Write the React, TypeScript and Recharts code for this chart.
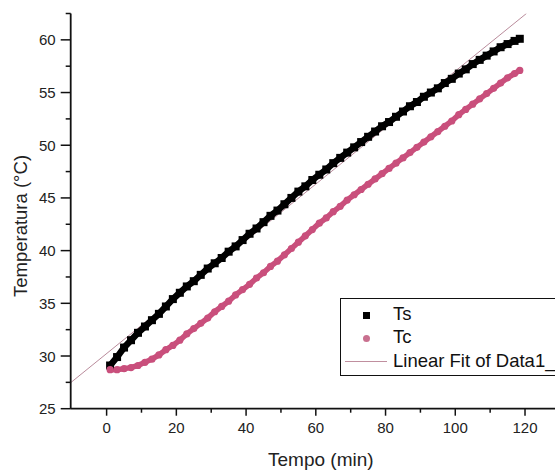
import { LineChart, Line, XAxis, YAxis, Label } from 'recharts'

const times = [
  1, 3, 5, 7, 9, 11, 13, 15, 17, 19, 21, 23, 25, 27, 29, 31, 33, 35, 37, 39,
  41, 43, 45, 47, 49, 51, 53, 55, 57, 59, 61, 63, 65, 67, 69, 71, 73, 75, 77, 79,
  81, 83, 85, 87, 89, 91, 93, 95, 97, 99, 101, 103, 105, 107, 109, 111, 113, 115, 117, 118.5,
]

const tsValues = [
  29.1, 29.9, 30.8, 31.5, 32.2, 32.8, 33.4, 34.0, 34.7, 35.4, 36.0, 36.6, 37.1, 37.7, 38.3, 38.8, 39.3, 39.9, 40.4, 41.0,
  41.6, 42.1, 42.7, 43.3, 43.8, 44.4, 45.0, 45.6, 46.1, 46.7, 47.2, 47.7, 48.3, 48.8, 49.3, 49.8, 50.3, 50.8, 51.3, 51.8,
  52.2, 52.7, 53.2, 53.7, 54.1, 54.6, 55.0, 55.4, 55.9, 56.3, 56.8, 57.2, 57.7, 58.1, 58.5, 58.9, 59.3, 59.6, 59.9, 60.1,
]

const tcValues = [
  28.7, 28.7, 28.8, 28.9, 29.1, 29.4, 29.7, 30.1, 30.6, 31.0, 31.5, 32.1, 32.6, 33.1, 33.6, 34.2, 34.7, 35.2, 35.8, 36.3,
  36.8, 37.4, 37.9, 38.5, 39.0, 39.6, 40.2, 40.8, 41.4, 42.0, 42.6, 43.1, 43.7, 44.2, 44.8, 45.3, 45.8, 46.3, 46.8, 47.3,
  47.8, 48.3, 48.8, 49.3, 49.8, 50.3, 50.8, 51.3, 51.8, 52.3, 52.9, 53.4, 53.9, 54.4, 54.9, 55.4, 55.9, 56.4, 56.8, 57.1,
]

// linear fit endpoints (Data1 fit)
const fitTimes = [-10.3, 120.4]
const fitValues = [27.47, 62.5]

const xTicks = [0, 10, 20, 30, 40, 50, 60, 70, 80, 90, 100, 110, 120]
const yTicks = [25, 27.5, 30, 32.5, 35, 37.5, 40, 42.5, 45, 47.5, 50, 52.5, 55, 57.5, 60, 62.5]

const tsData = times.map((t, i) => ({ t, v: tsValues[i] }))
const tcData = times.map((t, i) => ({ t, v: tcValues[i] }))
const fitData = fitTimes.map((t, i) => ({ t, v: fitValues[i] }))

const FONT = '"Liberation Sans", Arial, sans-serif'
const PINK = '#c94f7c'

const XTick = ({ x, y, payload }: any) => {
  const major = payload.value % 20 === 0
  return (
    <g>
      <line x1={x} x2={x} y1={y} y2={y + (major ? 7 : 4)} stroke="#111" strokeWidth={1.5} />
      {major && (
        <text x={x} y={y + 19} textAnchor="middle" dominantBaseline="central" fontSize={15} fill="#222" fontFamily={FONT}>
          {payload.value}
        </text>
      )}
    </g>
  )
}

const YTick = ({ x, y, payload }: any) => {
  const major = payload.value % 5 === 0
  return (
    <g>
      <line x1={x - (major ? 10 : 5)} x2={x} y1={y} y2={y} stroke="#111" strokeWidth={1.5} />
      {major && (
        <text x={x - 15} y={y} textAnchor="end" dominantBaseline="central" fontSize={15} fill="#222" fontFamily={FONT}>
          {payload.value}
        </text>
      )}
    </g>
  )
}

const square = (p: any) => (
  <rect key={`s${p.index}`} x={p.cx - 4} y={p.cy - 4} width={8} height={8} fill="#000" />
)
const circle = (p: any) => <circle key={`c${p.index}`} cx={p.cx} cy={p.cy} r={3.6} fill={PINK} />

function LegendBox() {
  return (
    <div
      style={{
        position: 'absolute',
        left: 340,
        top: 298,
        width: 240,
        height: 76,
        border: '1.5px solid #111',
        background: '#fff',
        fontFamily: FONT,
        fontSize: 18.5,
        color: '#111',
      }}
    >
      <div style={{ position: 'absolute', left: 22, top: 13, width: 7, height: 7, background: '#000' }} />
      <div style={{ position: 'absolute', left: 52, top: 4, lineHeight: '22px' }}>Ts</div>
      <div style={{ position: 'absolute', left: 22, top: 36, width: 7, height: 7, borderRadius: '50%', background: '#c9708f' }} />
      <div style={{ position: 'absolute', left: 52, top: 27, lineHeight: '22px' }}>Tc</div>
      <div style={{ position: 'absolute', left: 4, top: 62, width: 42, height: 1, background: '#c08f9f' }} />
      <div style={{ position: 'absolute', left: 52, top: 51, lineHeight: '22px', whiteSpace: 'nowrap' }}>Linear Fit of Data1_</div>
    </div>
  )
}

export default function App() {
  return (
    <div style={{ position: 'absolute', left: 0, top: 0, width: 555, height: 473, overflow: 'hidden', background: '#fff' }}>
      <LineChart width={555} height={473} margin={{ top: 13.5, right: 0, left: 0, bottom: 0 }} style={{ fontFamily: FONT }}>
        <XAxis
          type="number"
          dataKey="t"
          domain={[-10.3, 128.6]}
          allowDataOverflow
          ticks={xTicks}
          interval={0}
          tick={<XTick />}
          tickLine={false}
          tickSize={0}
          tickMargin={0}
          height={64.3}
          axisLine={{ stroke: '#111', strokeWidth: 1.8 }}
        >
          <Label value="Tempo (min)" position="insideBottom" offset={7} dx={8} style={{ fontSize: 19, fill: '#222', fontFamily: FONT }} />
        </XAxis>
        <YAxis
          type="number"
          domain={[25, 62.5]}
          allowDataOverflow
          ticks={yTicks}
          interval={0}
          tick={<YTick />}
          tickLine={false}
          tickSize={0}
          tickMargin={0}
          width={70.7}
          axisLine={{ stroke: '#111', strokeWidth: 1.8 }}
        >
          <Label
            content={() => (
              <text x={20} y={226} transform="rotate(-90, 20, 226)" textAnchor="middle" dominantBaseline="central" fontSize={18.5} fill="#222" fontFamily={FONT}>
                Temperatura (°C)
              </text>
            )}
          />
        </YAxis>
        <Line data={fitData} dataKey="v" stroke="#b98b9b" strokeWidth={1} dot={false} activeDot={false} isAnimationActive={false} />
        <Line data={tsData} dataKey="v" stroke="#000" strokeWidth={6.5} dot={square} activeDot={false} isAnimationActive={false} />
        <Line data={tcData} dataKey="v" stroke={PINK} strokeWidth={5.5} dot={circle} activeDot={false} isAnimationActive={false} />
      </LineChart>
      <LegendBox />
    </div>
  )
}
